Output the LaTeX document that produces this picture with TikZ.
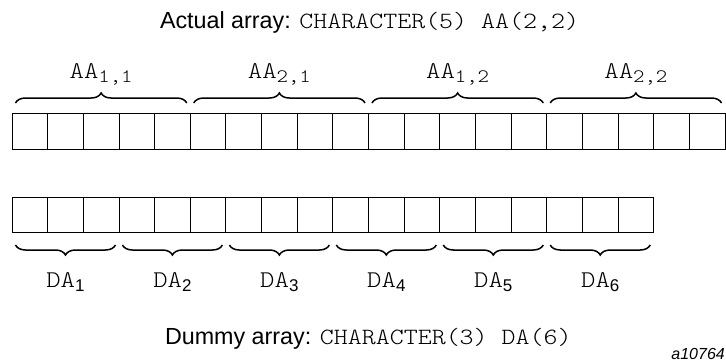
\documentclass[tikz,border=0pt]{standalone}
\usepackage{fontspec}
\setmainfont{Liberation Sans}
\newfontfamily\mono{lmmonolt10-regular.otf}[FakeStretch=1.143]
\usetikzlibrary{decorations.pathreplacing}
\begin{document}
\begin{tikzpicture}[x=1pt,y=-1pt,
  cell/.style={draw,line width=0.9pt,minimum width=35.65pt,minimum height=36pt,inner sep=0pt,outer sep=0pt},
  brc/.style={decorate,decoration={brace,amplitude=10pt},line width=1.5pt},
  txt/.style={inner sep=0pt,outer sep=0pt,font=\fontsize{23.3}{28}\selectfont},
  lbl/.style={inner sep=0pt,outer sep=0pt,anchor=base}]
\useasboundingbox (0,0) rectangle (726,362);
\node[txt,anchor=base west] (ttl) at (160,28) {Actual array: {\mono CHARACTER(5) AA(2,2)}};
\node[txt,anchor=base west] (dtl) at (165,344) {Dummy array: {\mono CHARACTER(3) DA(6)}};
\node[inner sep=0pt,anchor=base east,font=\fontsize{16}{18}\selectfont\itshape] (fig) at (725,359) {a10764};
\foreach \i in {1,...,20}{
  \node[cell] (t\i) at ({12+(\i-0.5)*35.65},131) {};
}
\foreach \i in {1,...,18}{
  \node[cell,minimum height=35pt] (b\i) at ({12+(\i-0.5)*35.65},214.5) {};
}
\foreach \k/\lab in {0/{1,1},1/{2,1},2/{1,2},3/{2,2}}{
  \pgfmathtruncatemacro\a{5*\k+1}
  \pgfmathtruncatemacro\c{5*\k+3}
  \pgfmathtruncatemacro\e{5*\k+5}
  \draw[brc] ([xshift=3.5pt,yshift=10pt]t\a.north west) -- ([xshift=-3.5pt,yshift=10pt]t\e.north east);
  \node[lbl] (aa\k) at ([yshift=35pt]t\c.north) {\mono\fontsize{24}{28}\selectfont AA\raisebox{-4.5pt}{\fontsize{19}{20}\selectfont\lab}};
}
\foreach \k in {0,...,5}{
  \pgfmathtruncatemacro\a{3*\k+1}
  \pgfmathtruncatemacro\c{3*\k+2}
  \pgfmathtruncatemacro\e{3*\k+3}
  \pgfmathtruncatemacro\n{\k+1}
  \draw[brc] ([xshift=-3.5pt,yshift=-13pt]b\e.south east) -- ([xshift=3.5pt,yshift=-13pt]b\a.south west);
  \node[lbl] (da\k) at ([yshift=-55pt]b\c.south) {{\mono\fontsize{24}{28}\selectfont DA}\raisebox{-4pt}{\fontsize{17}{18}\selectfont\n}};
}
\end{tikzpicture}
\end{document}
